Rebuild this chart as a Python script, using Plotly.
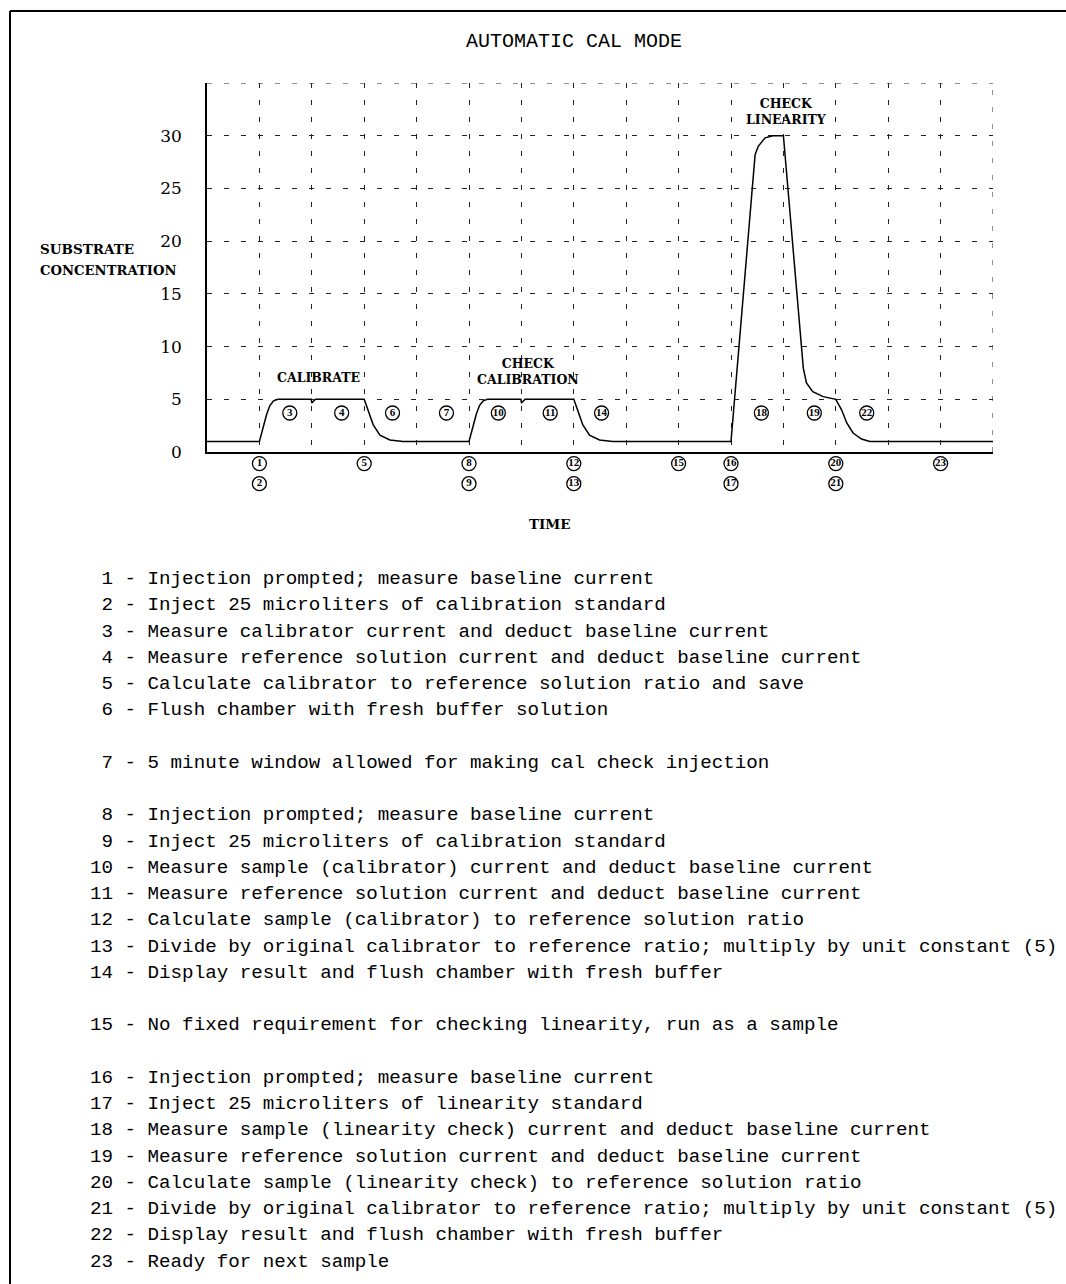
import plotly.graph_objects as go

# ---------------- data ----------------
time = [0.0, 1.0, 1.07, 1.14, 1.2, 1.27, 1.35, 1.99, 2.0, 2.07, 3.0, 3.07, 3.17, 3.30, 3.49, 3.74,
        5.0, 5.07, 5.14, 5.2, 5.27, 5.35, 5.99, 6.0, 6.07, 7.0, 7.07, 7.17, 7.30, 7.49, 7.74,
        10.0, 10.46, 10.52, 10.65, 10.80, 11.0, 11.38, 11.44, 11.56, 11.76, 11.98,
        12.0, 12.11, 12.21, 12.33, 12.49, 12.65, 15.0]
concentration = [1.0, 1.0, 2.3, 3.6, 4.4, 4.85, 5.0, 5.0, 4.65, 5.0, 5.0, 4.0, 2.6, 1.6, 1.14, 1.0,
                 1.0, 2.3, 3.6, 4.4, 4.85, 5.0, 5.0, 4.65, 5.0, 5.0, 4.0, 2.6, 1.6, 1.14, 1.0,
                 1.0, 28.2, 29.0, 29.8, 30.0, 30.0, 7.95, 6.55, 5.73, 5.25, 5.05,
                 5.0, 4.0, 2.75, 1.8, 1.23, 1.0, 1.0]

step_numbers = list(range(1, 24))
step_x = [1.0, 1.0, 1.58, 2.57, 3.0, 3.54, 4.57, 5.0, 5.0, 5.56, 6.55, 7.0, 7.0, 7.53,
          9.0, 10.0, 10.0, 10.58, 11.59, 12.0, 12.0, 12.59, 14.0]
step_y = [-1.1, -3.0, 3.7, 3.7, -1.1, 3.7, 3.7, -1.1, -3.0, 3.7, 3.7, -1.1, -3.0, 3.7,
          -1.1, -1.1, -3.0, 3.7, 3.7, -1.1, -3.0, 3.7, -1.1]

y_tickvals = [0, 5, 10, 15, 20, 25, 30]
y_ticktext = ["0", "5", "10", "15", "20", "25", "30"]

phase_labels = ["CALIBRATE", "CHECK<br>CALIBRATION", "CHECK<br>LINEARITY"]
phase_x = [2.12, 6.13, 11.05]
phase_y = [7.1, 7.6, 32.3]

steps_text = [
    (1, "Injection prompted; measure baseline current"),
    (2, "Inject 25 microliters of calibration standard"),
    (3, "Measure calibrator current and deduct baseline current"),
    (4, "Measure reference solution current and deduct baseline current"),
    (5, "Calculate calibrator to reference solution ratio and save"),
    (6, "Flush chamber with fresh buffer solution"),
    None,
    (7, "5 minute window allowed for making cal check injection"),
    None,
    (8, "Injection prompted; measure baseline current"),
    (9, "Inject 25 microliters of calibration standard"),
    (10, "Measure sample (calibrator) current and deduct baseline current"),
    (11, "Measure reference solution current and deduct baseline current"),
    (12, "Calculate sample (calibrator) to reference solution ratio"),
    (13, "Divide by original calibrator to reference ratio; multiply by unit constant (5)"),
    (14, "Display result and flush chamber with fresh buffer"),
    None,
    (15, "No fixed requirement for checking linearity, run as a sample"),
    None,
    (16, "Injection prompted; measure baseline current"),
    (17, "Inject 25 microliters of linearity standard"),
    (18, "Measure sample (linearity check) current and deduct baseline current"),
    (19, "Measure reference solution current and deduct baseline current"),
    (20, "Calculate sample (linearity check) to reference solution ratio"),
    (21, "Divide by original calibrator to reference ratio; multiply by unit constant (5)"),
    (22, "Display result and flush chamber with fresh buffer"),
    (23, "Ready for next sample"),
]

# ---------------- layout helpers (page pixel -> paper) ----------------
PL, PR, PT, PB = 207, 993, 83, 452   # main plot area in page pixels
PBB = 500                             # bottom of extended area (for labels below axis)
OFF = 0                               # body margin removed via post_script
W, H = 1066, 1284
YMAX = 35.0
PX_PER_UNIT = (PB - PT) / YMAX


def px(x):
    return (x - PL) / (PR - PL)


def py(y):
    return (PBB - y) / (PBB - PT)


SERIF = "DejaVu Serif"
MONO = "Liberation Mono"

fig = go.Figure()

fig.add_trace(go.Scatter(
    x=time, y=concentration, mode="lines", xaxis="x", yaxis="y",
    line=dict(color="black", width=1.5), hoverinfo="skip", showlegend=False,
))

fig.add_trace(go.Scatter(
    x=step_x, y=step_y, mode="markers+text", xaxis="x2", yaxis="y2",
    text=[str(n) for n in step_numbers], textposition="middle center",
    textfont=dict(family="Liberation Serif", size=11, color="black", weight="bold"),
    marker=dict(symbol="circle", size=14, color="white", line=dict(color="black", width=1.3)),
    cliponaxis=False, hoverinfo="skip", showlegend=False,
))

annotations = []
annotations.append(dict(x=px(574), y=py(42), xref="paper", yref="paper", showarrow=False,
                        text="AUTOMATIC CAL MODE", xanchor="center", yanchor="middle",
                        font=dict(family=MONO, size=20, color="black")))
annotations.append(dict(x=px(38), y=py(249), xref="paper", yref="paper", showarrow=False,
                        text="<b>SUBSTRATE</b>", xanchor="left", yanchor="middle",
                        font=dict(family=SERIF, size=13.5, color="black")))
annotations.append(dict(x=px(38), y=py(270), xref="paper", yref="paper", showarrow=False,
                        text="<b>CONCENTRATION</b>", xanchor="left", yanchor="middle",
                        font=dict(family=SERIF, size=13.2, color="black")))
annotations.append(dict(x=px(550), y=py(524), xref="paper", yref="paper", showarrow=False,
                        text="<b>TIME</b>", xanchor="center", yanchor="middle",
                        font=dict(family=SERIF, size=13.5, color="black")))
for t, xx, yy in zip(phase_labels, phase_x, phase_y):
    annotations.append(dict(x=xx, y=yy, xref="x", yref="y", showarrow=False,
                            text="<b>" + t + "</b>", xanchor="center", yanchor="middle",
                            font=dict(family=SERIF, size=12.5, color="black")))
NB = "\u00a0"
for row, item in enumerate(steps_text):
    if item is None:
        continue
    n, desc = item
    line = f"{n:>2} - {desc}".replace(" ", NB)
    annotations.append(dict(x=px(88), y=py(579 + 26.25 * row), xref="paper", yref="paper",
                            showarrow=False, text=line, xanchor="left", yanchor="middle",
                            align="left",
                            font=dict(family=MONO, size=19.2, color="black")))

DASH = "5px,12px"
shapes = [
    # outer frame (top and left visible)
    dict(type="line", xref="paper", yref="paper", x0=px(10), x1=px(1200), y0=py(11), y1=py(11),
         line=dict(color="black", width=2)),
    dict(type="line", xref="paper", yref="paper", x0=px(10), x1=px(10), y0=py(11), y1=py(1400),
         line=dict(color="black", width=2)),
    # dashed top and right boundaries of the grid
    dict(type="line", xref="x", yref="y", x0=0, x1=15, y0=YMAX, y1=YMAX,
         line=dict(color="#222", width=1, dash=DASH)),
    dict(type="line", xref="x", yref="y", x0=15, x1=15, y0=0, y1=YMAX,
         line=dict(color="#222", width=1, dash=DASH)),
]

grid = dict(showgrid=True, gridcolor="#222", gridwidth=1, griddash=DASH)
main_bottom = (PBB - PB) / (PBB - PT)
label_ymin = -(PBB - PB) / PX_PER_UNIT

fig.update_layout(
    width=W, height=H,
    margin=dict(l=PL - OFF, r=W - (PR - OFF), t=PT - OFF, b=H - (PBB - OFF), pad=0),
    paper_bgcolor="white", plot_bgcolor="rgba(0,0,0,0)",
    showlegend=False,
    annotations=annotations,
    shapes=shapes,
    xaxis=dict(range=[0, 15], dtick=1, tick0=0, showticklabels=False, ticks="", anchor="y",
               showline=True, linecolor="black", linewidth=1.5, zeroline=False, **grid),
    yaxis=dict(range=[0, YMAX], domain=[main_bottom, 1], anchor="x",
               tickmode="array", tickvals=y_tickvals, ticktext=y_ticktext,
               ticks="", showline=True, linecolor="black", linewidth=1.5, zeroline=False,
               ticklabelstandoff=20,
               tickfont=dict(family=SERIF, size=17, color="black"), **grid),
    xaxis2=dict(range=[0, 15], domain=[0, 1], anchor="y2", visible=False, showgrid=False),
    yaxis2=dict(range=[label_ymin, YMAX], domain=[0, 1], anchor="x2", visible=False,
                showgrid=False),
)

fig.write_html(
    "out.html",
    config={"displayModeBar": False},
    post_script="document.body.style.margin='0';document.body.style.overflow='hidden';",
)
